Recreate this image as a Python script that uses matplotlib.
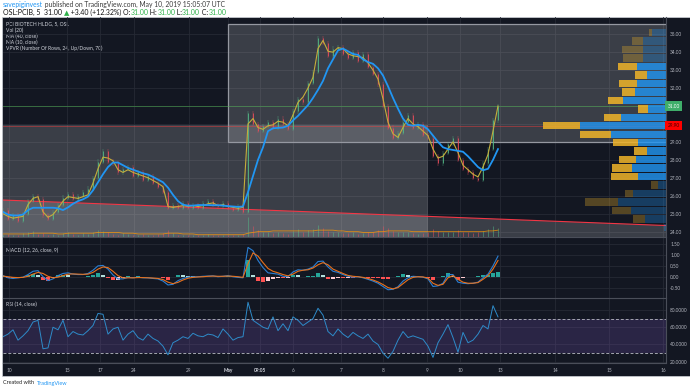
import numpy as np
import matplotlib.pyplot as plt
from matplotlib.patches import Rectangle, Polygon

plt.rcParams['font.family'] = ['Lato', 'DejaVu Sans']

# ── OHLC-ish data: x = bar index (resampled 5-min bars) ─────────────
close = [25.2, 24.7, 24.9, 24.6, 25.0, 25.7, 26.0, 25.8, 24.9, 24.7,
         25.1, 25.5, 25.9, 26.1, 25.8, 26.0, 26.2, 26.4, 27.0, 27.9,
         28.5, 27.9, 27.8, 27.3, 27.5, 27.6, 27.1, 27.3, 26.9, 27.1,
         26.7, 26.5, 26.2, 25.3, 25.5, 25.3, 25.6, 25.3, 25.5, 25.3,
         25.6, 25.7, 25.5, 25.4, 25.6, 25.3, 25.2, 25.4, 25.1, 30.6,
         30.0, 29.6, 29.9, 30.1, 29.8, 30.3, 30.0, 29.7, 30.7, 31.4,
         31.2, 32.3, 32.9, 34.8, 34.5, 33.8, 34.2, 34.3, 33.9, 33.7,
         34.0, 33.5, 33.9, 33.2, 32.8, 32.2, 31.0, 29.8, 29.2, 29.5,
         30.1, 30.5, 29.8, 30.0, 29.4, 29.2, 28.2, 27.8, 28.4, 28.9,
         29.2, 28.0, 27.5, 27.3, 27.0, 26.9, 27.8, 28.6, 30.2, 31.0]

ma10 = [25.0, 24.85, 24.75, 24.8, 24.85, 25.5, 25.85, 25.95, 25.1, 24.8,
        24.95, 25.3, 25.7, 25.95, 25.9, 25.85, 25.95, 26.05, 26.7, 27.5,
        28.15, 28.1, 27.95, 27.45, 27.3, 27.45, 27.3, 27.2, 27.1, 27.0,
        26.85, 26.7, 26.5, 25.4, 25.35, 25.4, 25.45, 25.4, 25.45, 25.4,
        25.45, 25.55, 25.6, 25.45, 25.5, 25.4, 25.35, 25.3, 25.35, 30.0,
        30.3, 29.8, 29.7, 29.9, 29.95, 30.15, 30.1, 29.9, 30.5, 31.2,
        31.5, 32.0, 32.6, 34.2, 34.65, 34.05, 34.0, 34.25, 34.2, 33.9,
        33.8, 33.75, 33.7, 33.4, 33.0, 32.5, 31.4, 30.1, 29.45, 29.25,
        29.8, 30.3, 30.0, 29.85, 29.6, 29.35, 28.6, 28.1, 28.2, 28.6,
        29.0, 28.4, 27.7, 27.45, 27.2, 27.05, 27.6, 28.3, 29.6, 31.0]

ma40 = [25.1, 24.95, 24.9, 24.9, 24.95, 25.2, 25.33, 25.33, 25.33, 25.33,
        25.33, 25.3, 25.2, 25.35, 25.55, 25.7, 25.8, 25.95, 26.3, 26.75,
        27.2, 27.6, 27.85, 27.85, 27.7, 27.55, 27.45, 27.35, 27.25, 27.18,
        27.05, 26.9, 26.75, 26.45, 26.05, 25.7, 25.5, 25.45, 25.45, 25.48,
        25.48, 25.48, 25.47, 25.47, 25.45, 25.42, 25.4, 25.38, 25.4, 26.2,
        27.1, 28.0, 28.7, 29.6, 29.76, 29.78, 29.8, 29.9, 30.2, 30.45,
        30.75, 31.05, 31.45, 31.9, 32.4, 33.1, 33.6, 34.1, 34.2, 34.05,
        33.9, 33.85, 33.6, 33.45, 33.35, 33.1, 32.7, 32.1, 31.45, 30.85,
        30.3, 29.95, 29.9, 29.95, 29.9, 29.7, 29.35, 29.0, 28.7, 28.6,
        28.55, 28.5, 28.45, 28.2, 27.9, 27.6, 27.42, 27.5, 28.0, 28.6]

volume = [3, 4, 2, 3, 5, 6, 8, 4, 5, 3, 4, 3, 5, 6, 4, 3, 5, 4, 7, 9,
          8, 6, 4, 3, 5, 4, 3, 2, 4, 3, 3, 4, 5, 9, 5, 3, 2, 3, 2, 3,
          2, 4, 3, 2, 3, 2, 3, 2, 4, 26, 14, 9, 7, 6, 5, 6, 5, 4, 8, 10,
          7, 9, 11, 16, 12, 8, 7, 6, 5, 5, 6, 4, 5, 6, 7, 9, 14, 12, 8, 6,
          7, 6, 5, 4, 5, 7, 10, 8, 6, 7, 6, 9, 7, 6, 5, 6, 8, 10, 15, 12]
vol_ma = [4, 4, 4, 4, 4, 4, 5, 5, 5, 5, 5, 4, 4, 5, 5, 5, 5, 5, 5, 6,
          6, 6, 6, 6, 5, 5, 5, 4, 4, 4, 4, 4, 4, 5, 5, 5, 4, 4, 4, 3,
          3, 3, 3, 3, 3, 3, 3, 3, 3, 5, 6, 7, 7, 7, 8, 8, 8, 8, 8, 8,
          8, 8, 8, 9, 9, 9, 9, 8, 8, 7, 7, 7, 6, 6, 6, 7, 7, 8, 8, 8,
          8, 8, 7, 7, 7, 7, 7, 7, 7, 7, 7, 7, 7, 7, 7, 7, 7, 8, 8, 9]

macd = [0.05, -0.05, -0.08, -0.05, -0.02, 0.1, 0.25, 0.28, 0.0, -0.18,
        -0.1, 0.05, 0.15, 0.18, 0.12, 0.1, 0.1, 0.15, 0.3, 0.5,
        0.52, 0.35, 0.08, -0.1, -0.1, -0.03, -0.05, -0.02, -0.05, -0.05,
        -0.08, -0.1, -0.2, -0.38, -0.35, -0.18, -0.08, -0.02, 0.0, 0.0,
        0.02, 0.03, 0.04, 0.0, 0.02, 0.05, 0.0, -0.03, -0.05, 1.35,
        1.2, 0.75, 0.42, 0.18, 0.15, 0.12, 0.02, 0.0, 0.22, 0.32,
        0.3, 0.35, 0.45, 0.7, 0.72, 0.45, 0.25, 0.2, 0.1, 0.02,
        -0.02, 0.0, -0.05, -0.12, -0.2, -0.3, -0.45, -0.6, -0.58, -0.46,
        -0.2, -0.05, 0.02, 0.0, -0.02, -0.1, -0.45, -0.42, -0.3, 0.1,
        0.1, -0.25, -0.3, -0.32, -0.3, -0.25, -0.05, 0.12, 0.5, 0.95]
signal = [0.03, 0.0, -0.03, -0.04, -0.03, 0.02, 0.12, 0.2, 0.15, 0.02,
          -0.05, -0.02, 0.05, 0.12, 0.13, 0.12, 0.11, 0.12, 0.2, 0.35,
          0.45, 0.42, 0.25, 0.05, -0.05, -0.05, -0.05, -0.04, -0.04, -0.05,
          -0.06, -0.08, -0.13, -0.25, -0.32, -0.26, -0.15, -0.07, -0.03, -0.01,
          0.0, 0.02, 0.03, 0.02, 0.02, 0.03, 0.02, 0.0, -0.03, 0.6,
          1.1, 0.95, 0.65, 0.38, 0.25, 0.18, 0.1, 0.04, 0.12, 0.25,
          0.3, 0.32, 0.4, 0.55, 0.65, 0.55, 0.35, 0.25, 0.15, 0.06,
          0.02, 0.0, -0.03, -0.08, -0.15, -0.24, -0.36, -0.5, -0.56, -0.5,
          -0.32, -0.14, -0.03, 0.0, -0.01, -0.06, -0.3, -0.4, -0.35, -0.05,
          0.05, -0.12, -0.25, -0.3, -0.3, -0.27, -0.12, 0.05, 0.35, 0.75]

rsi = [49, 52, 57, 45, 50, 56, 66, 68, 35, 36, 60, 57, 68, 49, 55, 52, 51, 56, 62, 76,
       75, 52, 58, 60, 45, 52, 56, 48, 45, 52, 47, 44, 38, 28, 42, 45, 49, 47, 53, 50,
       49, 52, 51, 48, 58, 52, 45, 48, 49, 89, 68, 64, 60, 58, 72, 56, 64, 56, 72, 68,
       62, 66, 70, 82, 74, 55, 50, 58, 52, 48, 54, 50, 47, 52, 44, 40, 30, 24, 32, 45,
       55, 48, 50, 48, 46, 38, 25, 42, 52, 63, 48, 31, 54, 42, 45, 52, 62, 58, 85, 72]

# ── Volume profile (VPVR, 24 rows from 24.00 upward) ────────────────
vp_low, vp_step = 24.0, 0.472
vp_up = [2, 21, 35, 48, 33, 8, 28, 34, 30, 19, 28, 55,
         86, 45, 18, 43, 31, 29, 19, 29, 23, 23, 23, 14]
vp_down = [0, 12, 19, 33, 8, 7, 27, 20, 17, 13, 25, 31,
           37, 17, 10, 15, 13, 18, 12, 19, 20, 21, 11, 3]
value_area = (6, 19)

# ── Drawings ────────────────────────────────────────────────────────
last_price, poc_price = 31.00, 29.90
box_a = (-1, 85, 23.0, 29.94)     # x0, x1, y0, y1
box_b = (45, 134, 29.0, 35.57)
trend_x, trend_y = [0, 132.6], [25.76, 24.34]

price_ticks = list(range(24, 36))
hidden_price_ticks = (30, 31)     # covered by the axis price labels
macd_ticks = [-0.5, 0.0, 0.5, 1.0, 1.5]
rsi_ticks = [20, 40, 60, 80]
time_ticks = [1.2, 12.8, 19.4, 26.2, 37.2, 45.0, 51.4, 58.0, 67.6, 76.0,
              84.8, 91.4, 99.4, 110.4, 121.2, 132.0]
time_labels = ['10', '15', '17', '24', '29', 'May', '09:05', '6', '7', '8',
               '9', '10', '13', '14', '15', '16']

# ── Layout helpers (pixel based) ────────────────────────────────────
W, H = 690, 389
BG = '#131722'
GRID = '#262a35'
TXT = '#b2b5be'
GREEN, RED = '#53b987', '#eb4d5c'
XMAX = 132.6


def frac(x0, y0, x1, y1):
    return [x0 / W, 1 - y1 / H, (x1 - x0) / W, (y1 - y0) / H]


def px(x, y):
    return x / W, 1 - y / H


fig = plt.figure(figsize=(W / 100, H / 100), dpi=100, facecolor='white')
bg = fig.add_axes([0, 0, 1, 1])
bg.set_xlim(0, 1)
bg.set_ylim(0, 1)
bg.axis('off')
bg.add_patch(Rectangle(px(2, 376), 688 / W, 359 / H, facecolor=BG,
                       edgecolor='#cfd2d8', lw=0.5, zorder=0))


def style(a, yticks, labels):
    a.set_facecolor('none')
    for s in a.spines.values():
        s.set_visible(False)
    a.spines['right'].set_visible(True)
    a.spines['right'].set_color('#4a4e59')
    a.spines['right'].set_linewidth(0.8)
    a.yaxis.tick_right()
    a.set_yticks(yticks)
    a.set_yticklabels(labels)
    a.tick_params(axis='y', length=0, pad=3, labelsize=3.4, labelcolor=TXT)
    a.tick_params(axis='x', length=0, labelbottom=False)
    a.set_xticks(time_ticks)
    a.grid(True, color=GRID, lw=0.6)
    a.set_axisbelow(True)
    a.set_xlim(0, XMAX)


# ── Price pane ──────────────────────────────────────────────────────
ax = fig.add_axes(frac(3, 17, 666, 237))
style(ax, price_ticks,
      ['' if v in hidden_price_ticks else f'{v:.2f}' for v in price_ticks])
ax.set_ylim(23.70, 35.96)

ax.add_patch(Rectangle((box_a[0], box_a[2]), box_a[1] - box_a[0], box_a[3] - box_a[2],
                       facecolor='white', alpha=0.17, edgecolor='none', zorder=1))
ax.add_patch(Rectangle((box_b[0], box_b[2]), box_b[1] - box_b[0], box_b[3] - box_b[2],
                       facecolor='white', alpha=0.17, edgecolor='none', zorder=1))
ax.add_patch(Rectangle((box_b[0], box_b[2]), box_b[1] - box_b[0], box_b[3] - box_b[2],
                       facecolor='none', edgecolor='#9598a1', lw=0.9, zorder=1.2))
ax.add_patch(Polygon([(trend_x[0], trend_y[0]), (trend_x[1], trend_y[1]),
                      (trend_x[1], 23.0), (trend_x[0], 23.0)],
                     facecolor='white', alpha=0.17, edgecolor='none', zorder=1))
ax.plot(trend_x, trend_y, color='#f23645', lw=0.8, zorder=1.3)
ax.axhline(last_price, color='#4caf50', lw=0.6, alpha=0.6, zorder=1.3)
ax.axhline(poc_price, color='#ff3b3b', lw=0.6, alpha=0.5, zorder=1.3)

# volume profile, anchored to the right edge
vp_scale = 0.1855 / max(u + d for u, d in zip(vp_up, vp_down))
ytf = ax.get_yaxis_transform()
for k, (u, d) in enumerate(zip(vp_up, vp_down)):
    bright = value_area[0] <= k <= value_area[1]
    y0 = vp_low + k * vp_step + 0.03
    h = vp_step - 0.06
    wu, wd = u * vp_scale, d * vp_scale
    ax.add_patch(Rectangle((1 - wu, y0), wu, h, transform=ytf,
                           facecolor='#2196f3', alpha=0.8 if bright else 0.3,
                           edgecolor='none', zorder=1.5))
    ax.add_patch(Rectangle((1 - wu - wd, y0), wd, h, transform=ytf,
                           facecolor='#f0b429', alpha=0.85 if bright else 0.3,
                           edgecolor='none', zorder=1.5))

# volume bars and volume MA at the bottom
xtf = ax.get_xaxis_transform()
c = np.array(close)
o = np.r_[c[0], c[:-1]]
xc = np.arange(len(c))
ccol = np.where(c >= o, GREEN, RED)
vmax = max(volume)
xv = np.arange(len(volume))
ax.vlines(xv, 0, np.array(volume) / vmax * 0.09, colors=ccol[:len(volume)],
          lw=0.7, alpha=0.5, transform=xtf, zorder=1.6)
ax.plot(np.arange(len(vol_ma)), np.array(vol_ma) / vmax * 0.09, color='#ff9800',
        lw=0.6, alpha=0.8, transform=xtf, zorder=1.7)

# candles
ax.vlines(xc, np.minimum(o, c) - 0.12, np.maximum(o, c) + 0.12, colors=ccol,
          lw=0.35, alpha=0.7, zorder=2)
ax.vlines(xc, np.minimum(o, c), np.maximum(o, c), colors=ccol, lw=0.7,
          alpha=0.85, zorder=2)

ax.plot(np.arange(len(ma10)), ma10, color='#c4ad3c', lw=0.8, zorder=3)
ax.plot(np.arange(len(ma40)), ma40, color='#2196f3', lw=1.3, zorder=3)

# axis price labels
ax.text(1 + 1.5 / 663, last_price, f'{last_price:.2f}', transform=ytf, ha='left',
        va='center', fontsize=3.4, color='white', clip_on=False, zorder=6,
        bbox=dict(boxstyle='square,pad=0.45', fc='#3fae6a', ec='none'))
ax.text(1 + 1.5 / 663, poc_price, f'{poc_price:.2f}', transform=ytf, ha='left',
        va='center', fontsize=3.4, color='#3a0000', clip_on=False, zorder=6,
        bbox=dict(boxstyle='square,pad=0.45', fc='#ff0000', ec='none'))

legend = ['PCI BIOTECH HLDG, 5, OSL', 'Vol (20)', 'MA (40, close)',
          'MA (10, close)', 'VPVR (Number Of Rows, 24, Up/Down, 70)']
for i, s in enumerate(legend):
    bg.text(*px(6, 24 + i * 6.1), s, fontsize=3.6, color='#d1d4dc', va='center')

# ── MACD pane ───────────────────────────────────────────────────────
axm = fig.add_axes(frac(3, 237, 666, 298))
style(axm, macd_ticks, [f'{v:.2f}' for v in macd_ticks])
axm.set_ylim(-0.98, 1.83)
axm.spines['top'].set_visible(True)
axm.spines['top'].set_color('#4a4e59')
axm.spines['top'].set_linewidth(0.8)
hist = np.array(macd) - np.array(signal)
dh = np.r_[0, np.diff(hist)]
hcol = np.where(hist >= 0, np.where(dh >= 0, '#26a69a', '#b2dfdb'),
                np.where(dh <= 0, '#ff5252', '#ffcdd2'))
axm.bar(np.arange(len(hist)), hist, width=0.9, color=hcol, zorder=2)
axm.plot(np.arange(len(macd)), macd, color='#2a7fd4', lw=0.8, zorder=3)
axm.plot(np.arange(len(signal)), signal, color='#e8711c', lw=0.8, zorder=3)
bg.text(*px(6, 250), 'MACD (12, 26, close, 9)', fontsize=3.6, color='#d1d4dc', va='center')

# ── RSI pane ────────────────────────────────────────────────────────
axr = fig.add_axes(frac(3, 298, 666, 363))
style(axr, rsi_ticks, [f'{v:.4f}' for v in rsi_ticks])
axr.set_ylim(18.5, 93.9)
for s in ('top', 'bottom'):
    axr.spines[s].set_visible(True)
    axr.spines[s].set_color('#4a4e59')
    axr.spines[s].set_linewidth(0.8)
axr.axhspan(30, 70, color='#7e57c2', alpha=0.22, lw=0, zorder=1)
for lvl in (30, 70):
    axr.axhline(lvl, color='#a3a6af', lw=0.7, ls=(0, (3, 2)), zorder=1.5)
axr.plot(np.arange(len(rsi)), rsi, color='#2e8bc9', lw=0.7, zorder=3)
bg.text(*px(6, 304), 'RSI (14, close)', fontsize=3.6, color='#d1d4dc', va='center')

axr.tick_params(axis='x', labelbottom=True, labelsize=3.4, labelcolor=TXT, pad=3.5)
axr.set_xticklabels(time_labels)
for lab in axr.get_xticklabels():
    if lab.get_text() in ('May', '09:05'):
        lab.set_fontweight('bold')
        lab.set_color('#d1d4dc')


# ── Header & footer text ───────────────────────────────────────────
def chain(x, y, parts, size, weight='normal'):
    t = None
    for s, col in parts:
        if t is None:
            t = bg.text(*px(x, y), s, color=col, fontsize=size, va='center',
                        ha='left', fontweight=weight)
        else:
            t = bg.annotate(s, xy=(1, 0), xycoords=t, color=col, fontsize=size,
                            va='bottom', ha='left', fontweight=weight)
    return t


DARK = '#3c3c3c'
G = '#2fb14a'
chain(3, 5, [('savepiginvest', '#2196f3'),
             (' published on TradingView.com, May 10, 2019 15:05:07 UTC', DARK)], 4.9)
chain(3, 12.5, [('OSL:PCIB, 5  31.00 ', '#111111'), ('\u25b2', G),
                (' +3.40 (+12.32%) O:', '#111111'), ('31.00', G), (' H:', '#111111'),
                ('31.00', G), (' L:', '#111111'), ('31.00', G), (' C:', '#111111'),
                ('31.00', G)], 5.0)
chain(3, 383, [('Created with  ', '#222222'), ('TradingView', '#2196f3')], 4.0)

fig.savefig('out.png', dpi=100, facecolor='white')
